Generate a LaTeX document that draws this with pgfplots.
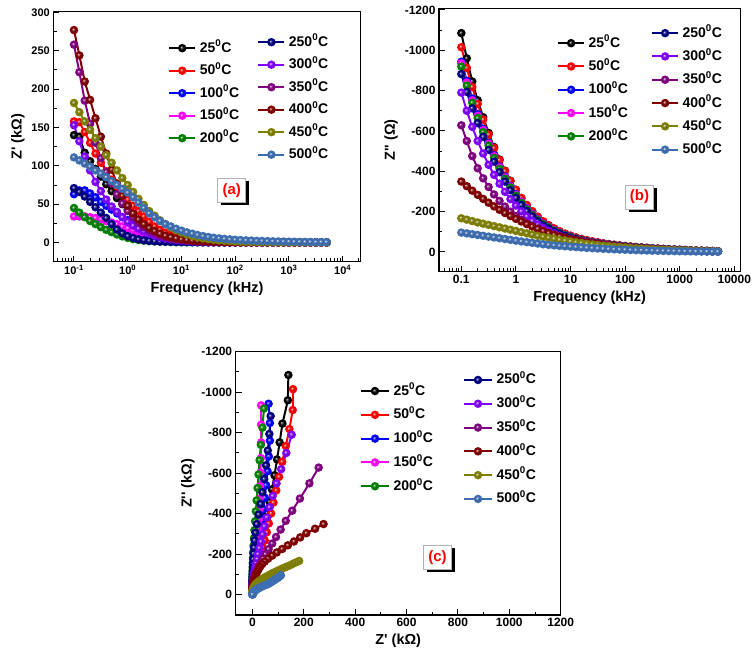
\documentclass[border=0pt]{standalone}
\usepackage{fontspec}
\setmainfont{Liberation Sans}[Ligatures=TeXOff]
\usepackage{pgfplots}
\usepackage{pgfplotstable}
\pgfplotsset{compat=1.18}
\usetikzlibrary{shadows}

\definecolor{c25}{RGB}{0,0,0}
\definecolor{c50}{RGB}{255,0,0}
\definecolor{c100}{RGB}{0,0,255}
\definecolor{c150}{RGB}{255,0,255}
\definecolor{c200}{RGB}{0,128,0}
\definecolor{c250}{RGB}{0,0,128}
\definecolor{c300}{RGB}{128,0,255}
\definecolor{c350}{RGB}{128,0,128}
\definecolor{c400}{RGB}{128,0,0}
\definecolor{c450}{RGB}{128,128,0}
\definecolor{c500}{RGB}{61,110,178}

% f in kHz; rT = Z' (kOhm), iT = Z'' at temperature T (deg C)
\pgfplotstableread{
f r25 i25 r50 i50 r100 i100 r150 i150 r200 i200 r250 i250 r300 i300 r350 i350 r400 i400 r450 i450 r500 i500
0.1 140 -1085 158 -1015 63 -943 34 -935 45 -919 71 -882 153 -790 258 -628 277 -349 182 -167 111 -96
0.1259 138 -960 157 -912 68 -848 34 -840 39 -825 66 -794 132 -700 222 -550 244 -326 170 -160 107 -92
0.1585 117 -845 144 -818 68 -761 34 -752 33 -740 60 -712 112 -620 185 -475 210 -304 158 -153 103 -88
0.1995 106 -752 130 -734 64 -683 33 -675 28 -664 53 -639 94 -550 155 -415 186 -283 147 -146 99 -84
0.2512 96 -668 116 -656 59 -610 32 -604 24 -594 46 -571 79 -488 130 -365 162 -263 136 -140 94 -80
0.3162 86 -590 104 -582 53 -541 30 -536 20 -527 39 -506 67 -432 110 -322 138 -244 125 -134 90 -76
0.3981 76 -520 93 -515 48 -479 28 -474 16.5 -466 32 -448 56 -382 92 -285 116 -226 114 -128 85 -72
0.5012 67 -458 82 -455 43 -423 26 -419 13.5 -412 24 -396 47 -338 77 -253 95 -209 104 -122 80 -68
0.631 58 -403 73 -401 38 -373 24 -369 10.5 -363 17 -349 40 -298 63 -225 77 -193 94 -116 75 -64
0.7943 50 -353 64 -352 33 -327 21 -324 8 -319 12 -306 33 -262 51 -200 61 -178 84 -110 70 -60
1 43 -308 56 -308 29 -286 18.5 -283 6 -279 8.5 -268 27 -230 41 -178 48 -164 75 -104 65 -56
1.259 36 -266 48 -268 25 -249 16 -247 4.4 -243 6 -233 22 -201 33 -159 38 -151 66 -98 59 -52
1.585 30 -231 41 -233 21 -217 13.5 -215 3.2 -211 4.3 -203 18 -176 26 -142 30 -138 57 -92 52 -48.5
1.995 25 -200 34 -202 17 -188 11 -186 2.4 -183 3.1 -176 14.5 -154 20 -127 24 -126 49 -86 45 -45
2.512 20 -173 27 -175 14 -163 9 -161 1.8 -158 2.3 -152 11.5 -135 15.5 -114 19 -115 41 -80 38 -41.5
3.162 16 -150 21 -152 11 -141 7.2 -140 1.4 -138 1.7 -132 9 -118 12 -103 15 -104 35 -75 33 -38
3.981 12.5 -131 16.5 -133 8.5 -124 5.7 -123 1.1 -121 1.3 -116 7 -104 9 -93 11.5 -94 29 -70 28 -35
5.012 9.5 -115 13 -117 6.5 -109 4.5 -108 0.9 -106 1 -102 5.5 -92 7 -85 9 -85 24 -65 24 -32.5
6.31 7.5 -101 10 -103 5 -96 3.5 -95 0.7 -93.5 0.8 -90 4.3 -81 5.3 -77.5 7 -77 19.5 -60 21 -30
7.943 5.8 -89.5 7.8 -91 3.8 -85 2.7 -84 0.55 -83 0.6 -79.5 3.3 -72 4 -71 5.5 -70 16 -56 18 -28
10 4.5 -79.5 6 -81 3 -75.5 2.1 -75 0.45 -74 0.5 -70.5 2.6 -64 3.1 -65 4.2 -63 13 -52 15.5 -26
12.59 3.5 -71 4.7 -72 2.3 -67 1.6 -66.5 0.35 -66 0.4 -63 2 -57 2.4 -60 3.3 -57 10.5 -48 13.3 -24
15.85 2.7 -63.5 3.7 -64.5 1.8 -60 1.2 -59.5 0.3 -59 0.33 -56.5 1.5 -51 1.8 -55 2.6 -51.5 8.5 -44 11.5 -22
19.95 2.1 -57 2.9 -58 1.4 -54 1 -53.5 0.25 -53 0.27 -51 1.2 -46 1.4 -50 2 -46.5 6.8 -40.5 9.8 -20
25.12 1.7 -51.5 2.3 -52.5 1.1 -49 0.8 -48.5 0.2 -48 0.22 -46 0.9 -41.5 1.1 -46 1.6 -42 5.5 -37 8.4 -18.5
31.62 1.3 -46.5 1.8 -47.5 0.9 -44.5 0.6 -44 0.18 -43.5 0.18 -41.5 0.7 -37.5 0.85 -42 1.3 -38 4.4 -34 7.2 -17
39.81 1 -42 1.4 -43 0.7 -40 0.5 -40 0.15 -39.5 0.15 -37.5 0.55 -34 0.65 -38 1 -34.5 3.5 -31 6.2 -15.5
50.12 0.8 -38.5 1.1 -39 0.55 -36.5 0.4 -36.2 0.12 -36 0.12 -34 0.45 -31 0.5 -34.5 0.8 -31.3 2.8 -28.5 5.4 -14
63.1 0.65 -35 0.9 -35.5 0.45 -33 0.35 -33.2 0.1 -33 0.1 -31 0.35 -28 0.4 -31 0.65 -28.4 2.2 -26 4.7 -13
79.43 0.5 -32 0.7 -32.5 0.35 -30.3 0.3 -30.2 0.1 -30 0.1 -28.5 0.3 -25.5 0.32 -28 0.5 -25.8 1.8 -24 4.1 -11.8
100 0.4 -29 0.55 -29.5 0.3 -27.5 0.25 -27.7 0.1 -27.5 0.1 -26 0.25 -23 0.25 -25 0.4 -23.4 1.4 -22 3.6 -10.6
125.9 0.35 -26.5 0.45 -27 0.25 -25.2 0.2 -25.2 0.1 -25 0.1 -23.7 0.2 -21 0.2 -22.5 0.32 -21.2 1.1 -20 3.2 -9.6
158.5 0.3 -24 0.35 -24.5 0.2 -22.8 0.18 -23 0.1 -22.8 0.1 -21.6 0.18 -19 0.17 -20 0.25 -19.2 0.9 -18 2.8 -8.7
199.5 0.25 -22 0.3 -22.5 0.18 -21 0.15 -21.1 0.1 -21 0.1 -19.8 0.15 -17.2 0.14 -18 0.2 -17.4 0.7 -16.5 2.5 -7.8
251.2 0.2 -20 0.25 -20.5 0.15 -19.1 0.12 -19.2 0.1 -19 0.1 -18 0.12 -15.5 0.12 -16 0.17 -15.7 0.6 -15 2.2 -7
316.2 0.18 -18 0.2 -18.5 0.12 -17.2 0.1 -17.4 0.1 -17.2 0.1 -16.3 0.1 -14 0.1 -14.5 0.14 -14.2 0.5 -13.5 2 -6.3
398.1 0.15 -16.3 0.18 -16.7 0.1 -15.5 0.1 -15.7 0.1 -15.6 0.1 -14.8 0.1 -12.6 0.1 -13 0.12 -12.8 0.4 -12 1.8 -5.6
501.2 0.13 -14.7 0.15 -15 0.1 -14 0.1 -14.2 0.1 -14 0.1 -13.3 0.1 -11.3 0.1 -11.5 0.1 -11.5 0.35 -11 1.6 -5
631 0.12 -13.1 0.13 -13.4 0.1 -12.5 0.1 -12.7 0.1 -12.6 0.1 -12 0.1 -10.1 0.1 -10.2 0.1 -10.3 0.3 -10 1.4 -4.4
794.3 0.1 -11.7 0.12 -12 0.1 -11.2 0.1 -11.4 0.1 -11.3 0.1 -10.7 0.1 -9 0.1 -9 0.1 -9.2 0.25 -9 1.3 -3.9
1000 0.1 -10.4 0.1 -10.6 0.1 -9.9 0.1 -10.1 0.1 -10 0.1 -9.5 0.1 -8 0.1 -8 0.1 -8.2 0.2 -8 1.1 -3.4
1259 0.1 -9.1 0.1 -9.3 0.1 -8.7 0.1 -8.8 0.1 -8.8 0.1 -8.4 0.1 -7.1 0.1 -7.1 0.1 -7.3 0.18 -7 1 -3
1585 0.1 -7.9 0.1 -8.1 0.1 -7.5 0.1 -7.7 0.1 -7.7 0.1 -7.3 0.1 -6.3 0.1 -6.3 0.1 -6.4 0.15 -6.2 0.9 -2.6
1995 0.1 -6.8 0.1 -7 0.1 -6.5 0.1 -6.6 0.1 -6.6 0.1 -6.3 0.1 -5.5 0.1 -5.5 0.1 -5.6 0.13 -5.4 0.8 -2.2
2512 0.1 -5.8 0.1 -6 0.1 -5.6 0.1 -5.7 0.1 -5.7 0.1 -5.4 0.1 -4.8 0.1 -4.8 0.1 -4.9 0.12 -4.7 0.7 -1.9
3162 0.1 -4.8 0.1 -5 0.1 -4.7 0.1 -4.7 0.1 -4.7 0.1 -4.5 0.1 -4.1 0.1 -4.1 0.1 -4.2 0.1 -4 0.6 -1.6
3981 0.1 -3.9 0.1 -4 0.1 -3.7 0.1 -3.8 0.1 -3.8 0.1 -3.7 0.1 -3.4 0.1 -3.4 0.1 -3.5 0.1 -3.4 0.55 -1.3
5012 0.1 -3.1 0.1 -3.2 0.1 -3 0.1 -3 0.1 -3 0.1 -2.9 0.1 -2.8 0.1 -2.8 0.1 -2.9 0.1 -2.8 0.5 -1
}\zdata

\pgfplotsset{
  ser/.style={color=c#1, mark options={ball color=c#1}},
  trace/.style={line width=2pt, mark=ball, mark size=3.2pt},
  panel/.style={
    scale only axis,
    axis line style={line width=1.3pt},
    every tick/.style={black, line width=1pt},
    major tick length=6pt,
    minor tick length=3.5pt,
    tick align=inside,
    xtick pos=left, ytick pos=left,
    tick label style={font=\fontsize{12}{14}\selectfont\bfseries},
    label style={font=\fontsize{14.5}{16}\selectfont\bfseries},
    /pgf/number format/assume math mode=true,
    /pgf/number format/1000 sep={},
    every axis plot/.append style={trace},
    legend image code/.code={\draw[mark repeat=2,mark phase=2,##1] plot coordinates {(0pt,0pt) (13pt,0pt) (26pt,0pt)};},
    legend cell align=left,
    legend style={draw=none, fill=none, inner sep=0pt, outer sep=0pt,
      anchor=north west, column sep=2.5pt, row sep=6.5pt,
      font=\fontsize{14}{15}\selectfont\bfseries,
      nodes={inner sep=1pt, text height=11pt, text depth=3pt}},
  },
  logminor/.style={minor xtick={0.05,0.06,0.07,0.08,0.09,0.2,0.3,0.4,0.5,0.6,0.7,0.8,0.9,2,3,4,5,6,7,8,9,20,30,40,50,60,70,80,90,200,300,400,500,600,700,800,900,2000,3000,4000,5000,6000,7000,8000,9000,20000}},
}
\tikzset{
  tag/.style={draw=gray!60, line width=0.6pt, fill=white, text=red,
    font=\fontsize{15}{16}\selectfont\bfseries, inner sep=0pt,
    minimum width=28pt, minimum height=24pt,
    drop shadow={fill=black, opacity=1, shadow xshift=3pt, shadow yshift=-3pt}},
}

\begin{document}
\begin{tikzpicture}
\useasboundingbox (0,0) rectangle (756pt,662pt);

% ---------- (a) Z' versus frequency ----------
\begin{axis}[panel, at={(53.3pt,400.3pt)}, anchor=south west,
  width=307.4pt, height=250pt,
  xmode=log, xmin=0.0412, xmax=21600, ymin=-25, ymax=301,
  xtick={0.1,1,10,100,1000,10000},
  xticklabels={10\textsuperscript{-1},10\textsuperscript{0},10\textsuperscript{1},10\textsuperscript{2},10\textsuperscript{3},10\textsuperscript{4}},
  logminor,
  ytick={0,50,...,300}, minor ytick={25,75,...,275},
  tick label style={font=\fontsize{11}{13}\selectfont\bfseries},
  xlabel={Frequency (kHz)}, ylabel={Z' (kΩ)},
  legend style={at={(0.374,0.886)}}]
\pgfplotsinvokeforeach{25,50,100,150,200}{
  \addplot[ser=#1] table[x=f, y=r#1] {\zdata};
  \addlegendentry{#1\textsuperscript{0}C}
}
\pgfplotsinvokeforeach{250,300,350,400,450,500}{
  \addplot[ser=#1, forget plot] table[x=f, y=r#1] {\zdata};
}
\end{axis}
\begin{axis}[panel, hide axis, at={(53.3pt,400.3pt)}, anchor=south west,
  width=307.4pt, height=250pt, xmin=0, xmax=1, ymin=0, ymax=1,
  legend style={at={(0.664,0.91)}}]
\pgfplotsinvokeforeach{250,300,350,400,450,500}{
  \addlegendimage{ser=#1, trace}
  \addlegendentry{#1\textsuperscript{0}C}
}
\end{axis}
\node[tag] at (231.7pt,471.7pt) {(a)};

% ---------- (b) Z'' versus frequency ----------
\begin{axis}[panel, at={(439pt,390.3pt)}, anchor=south west,
  width=301.3pt, height=263.4pt,
  xmode=log, xmin=0.039, xmax=12900,
  y dir=reverse, ymin=-1208, ymax=98,
  xtick={0.1,1,10,100,1000,10000},
  xticklabels={0.1,1,10,100,1000,10000},
  logminor,
  ytick={-1200,-1000,...,0}, minor ytick={-1100,-900,...,-100},
  xlabel={Frequency (kHz)}, ylabel={Z'' (Ω)},
  legend style={at={(0.392,0.898)}, row sep=7.3pt}]
\pgfplotsinvokeforeach{25,50,100,150,200}{
  \addplot[ser=#1] table[x=f, y=i#1] {\zdata};
  \addlegendentry{#1\textsuperscript{0}C}
}
\pgfplotsinvokeforeach{250,300,350,400,450,500}{
  \addplot[ser=#1, forget plot] table[x=f, y=i#1] {\zdata};
}
\end{axis}
\begin{axis}[panel, hide axis, at={(439pt,390.3pt)}, anchor=south west,
  width=301.3pt, height=263.4pt, xmin=0, xmax=1, ymin=0, ymax=1,
  legend style={at={(0.704,0.936)}, row sep=7.3pt}]
\pgfplotsinvokeforeach{250,300,350,400,450,500}{
  \addlegendimage{ser=#1, trace}
  \addlegendentry{#1\textsuperscript{0}C}
}
\end{axis}
\node[tag] at (639.5pt,465pt) {(b)};

% ---------- (c) Nyquist plot ----------
\begin{axis}[panel, at={(235.7pt,47pt)}, anchor=south west,
  width=325pt, height=263.3pt,
  xmin=-65, xmax=1200, y dir=reverse, ymin=-1200, ymax=100,
  xtick={0,200,...,1200}, minor xtick={100,300,...,1100},
  ytick={-1200,-1000,...,0}, minor ytick={-1100,-900,...,-100},
  xlabel={Z' (kΩ)}, ylabel={Z'' (kΩ)},
  legend image code/.code={\draw[mark repeat=2,mark phase=2,#1] plot coordinates {(0pt,0pt) (14pt,0pt) (28pt,0pt)};},
  legend style={at={(0.3825,0.881)}, row sep=7.8pt}]
\pgfplotsinvokeforeach{25,50,100,150,200}{
  \addplot[ser=#1] table[x=r#1, y=i#1] {\zdata};
  \addlegendentry{#1\textsuperscript{0}C}
}
\pgfplotsinvokeforeach{250,300,350,400,450,500}{
  \addplot[ser=#1, forget plot] table[x=r#1, y=i#1] {\zdata};
}
\end{axis}
\begin{axis}[panel, hide axis, at={(235.7pt,47pt)}, anchor=south west,
  width=325pt, height=263.3pt, xmin=0, xmax=1, ymin=0, ymax=1,
  legend image code/.code={\draw[mark repeat=2,mark phase=2,#1] plot coordinates {(0pt,0pt) (14pt,0pt) (28pt,0pt)};},
  legend style={at={(0.6994,0.923)}, row sep=7.8pt}]
\pgfplotsinvokeforeach{250,300,350,400,450,500}{
  \addlegendimage{ser=#1, trace}
  \addlegendentry{#1\textsuperscript{0}C}
}
\end{axis}
\node[tag] at (437.5pt,104.5pt) {(c)};
\end{tikzpicture}
\end{document}
